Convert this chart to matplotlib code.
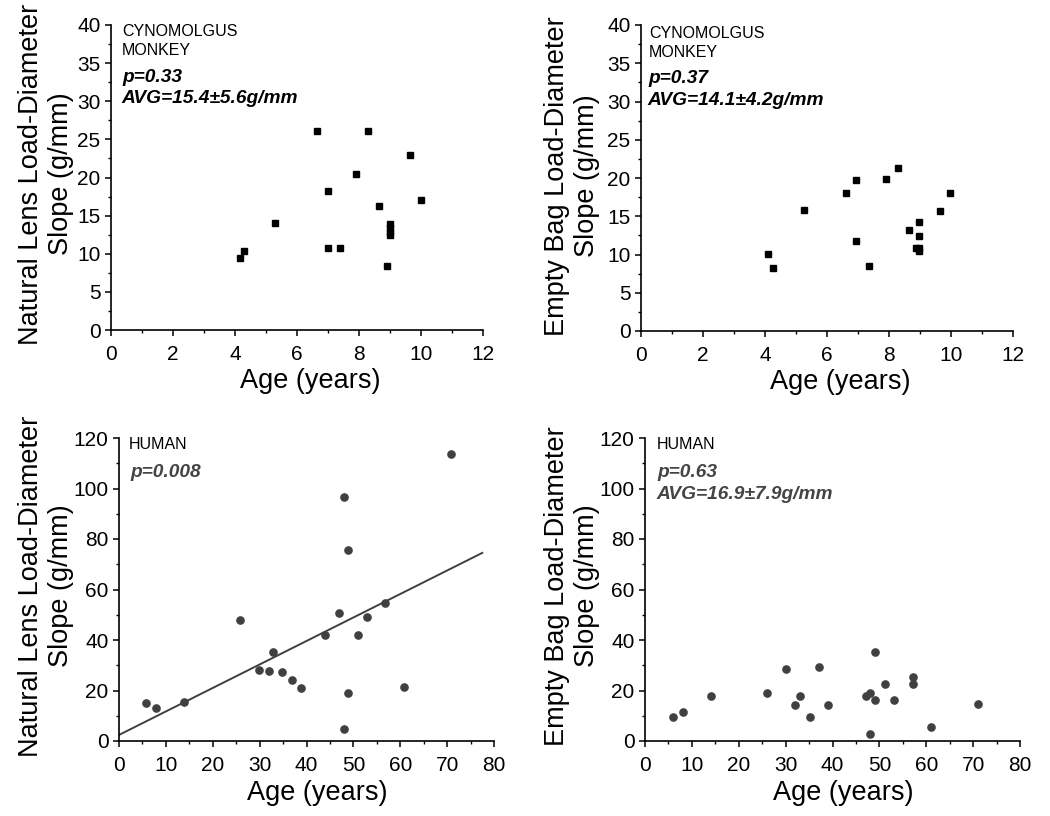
import matplotlib
matplotlib.use("Agg")
import matplotlib.pyplot as plt
from matplotlib.ticker import MultipleLocator
import numpy as np

plt.rcParams['font.family'] = ['Liberation Sans', 'DejaVu Sans']

# ---- Data ----
monkey_age = [4.15, 4.3, 5.3, 6.65, 7.0, 7.0, 7.4, 7.9, 8.3, 8.65, 8.9, 9.0, 9.0, 9.0, 9.0, 9.65, 10.0]
monkey_lens = [9.5, 10.4, 14.0, 26.1, 18.2, 10.8, 10.8, 20.5, 26.1, 16.3, 8.4, 13.9, 13.4, 12.9, 12.5, 23.0, 17.1]

monkey_bag_age = [4.1, 4.25, 5.25, 6.6, 6.95, 6.95, 7.37, 7.89, 8.3, 8.64, 8.86, 8.98, 8.98, 8.98, 8.98, 9.65, 9.98]
monkey_bag = [10.1, 8.2, 15.8, 18.0, 19.8, 11.7, 8.5, 19.9, 21.3, 13.2, 10.9, 14.2, 12.4, 10.9, 10.4, 15.7, 18.1]

human_lens_age = [5.8, 7.8, 13.8, 25.9, 29.9, 31.9, 32.9, 34.8, 36.8, 38.8, 43.9, 46.9, 47.9, 47.9,
                  48.9, 48.9, 50.9, 52.8, 56.8, 60.9, 70.9]
human_lens = [15.1, 13.2, 15.6, 47.8, 28.2, 27.8, 35.2, 27.2, 24.2, 20.8, 41.9, 50.7, 96.6, 4.8,
              75.5, 19.2, 41.9, 49.1, 54.8, 21.3, 113.8]
fit_x = [0.0, 77.5]
fit_y = [2.4, 74.5]

human_bag_age = [6.0, 8.0, 14.0, 26.0, 30.0, 32.1, 33.1, 35.1, 37.1, 39.0, 47.1, 48.1, 48.1, 49.1,
                 49.1, 51.1, 53.1, 57.1, 57.1, 61.1, 71.1]
human_bag = [9.7, 11.4, 18.0, 18.9, 28.6, 14.2, 18.0, 9.7, 29.2, 14.4, 17.9, 19.0, 2.8, 35.3,
             16.1, 22.4, 16.1, 25.3, 22.4, 5.7, 14.7]

W, H = 1050, 816
fig = plt.figure(figsize=(W / 100, H / 100), dpi=100)


def add_ax(left, right, top, bottom):
    return fig.add_axes([left / W, 1 - bottom / H, (right - left) / W, (bottom - top) / H])


def style(ax, xmax, xmaj, xmin, ymax, ymaj, ymin):
    ax.set_xlim(0, xmax)
    ax.set_ylim(0, ymax)
    ax.xaxis.set_major_locator(MultipleLocator(xmaj))
    ax.xaxis.set_minor_locator(MultipleLocator(xmin))
    ax.yaxis.set_major_locator(MultipleLocator(ymaj))
    ax.yaxis.set_minor_locator(MultipleLocator(ymin))
    for s in ['top', 'right']:
        ax.spines[s].set_visible(False)
    for s in ['left', 'bottom']:
        ax.spines[s].set_linewidth(1.2)
        ax.spines[s].set_color('black')
    ax.tick_params(which='major', direction='out', length=4, width=1.1, labelsize=15)
    ax.tick_params(which='minor', direction='out', length=2.5, width=1.0)
    ax.tick_params(axis='x', which='major', pad=7)
    ax.tick_params(axis='y', which='major', pad=3.5)
    ax.patch.set_alpha(0)


def px_text(x, y, s, **kw):
    fig.text(x / W, 1 - y / H, s, **kw)


# Top-left
ax1 = add_ax(111, 483, 25, 330)
style(ax1, 12, 2, 1, 40, 5, 2.5)
ax1.plot(monkey_age, monkey_lens, 's', color='black', ms=4.8, clip_on=False)

# Top-right
ax2 = add_ax(641, 1013, 25, 331)
style(ax2, 12, 2, 1, 40, 5, 2.5)
ax2.plot(monkey_bag_age, monkey_bag, 's', color='black', ms=4.8, clip_on=False)

# Bottom-left
ax3 = add_ax(119, 494, 438, 741)
style(ax3, 80, 10, 5, 120, 20, 10)
ax3.plot(fit_x, fit_y, '-', color='#404040', lw=1.4)
ax3.plot(human_lens_age, human_lens, 'o', color='#404040', ms=5.2, clip_on=False)

# Bottom-right
ax4 = add_ax(645, 1020, 438, 741)
style(ax4, 80, 10, 5, 120, 20, 10)
ax4.plot(human_bag_age, human_bag, 'o', color='#404040', ms=5.2, clip_on=False)

# Axis labels
lab = dict(fontsize=19.5, ha='center', va='center', multialignment='center', linespacing=1.15)
px_text(46, 174, 'Natural Lens Load-Diameter\nSlope (g/mm)', rotation=90, **lab)
px_text(572, 176, 'Empty Bag Load-Diameter\nSlope (g/mm)', rotation=90, **lab)
px_text(46, 586, 'Natural Lens Load-Diameter\nSlope (g/mm)', rotation=90, **lab)
px_text(572, 586, 'Empty Bag Load-Diameter\nSlope (g/mm)', rotation=90, **lab)
px_text(310, 381, 'Age (years)', **lab)
px_text(840, 382, 'Age (years)', **lab)
px_text(317, 793, 'Age (years)', **lab)
px_text(843, 793, 'Age (years)', **lab)

# Annotations
small = dict(fontsize=11.5, ha='left', va='baseline')
bi = dict(fontsize=13.8, ha='left', va='baseline', fontweight='bold', fontstyle='italic')
px_text(122, 36, 'CYNOMOLGUS', **small)
px_text(122, 55, 'MONKEY', **small)
px_text(122, 82, 'p=0.33', color='black', **bi)
px_text(121, 103, 'AVG=15.4\u00b15.6g/mm', color='black', **bi)
px_text(649, 38, 'CYNOMOLGUS', **small)
px_text(649, 57, 'MONKEY', **small)
px_text(648, 83, 'p=0.37', color='black', **bi)
px_text(647, 105, 'AVG=14.1\u00b14.2g/mm', color='black', **bi)
px_text(129, 449, 'HUMAN', **small)
px_text(130, 477, 'p=0.008', color='#444444', **bi)
px_text(657, 449, 'HUMAN', **small)
px_text(657, 477, 'p=0.63', color='#444444', **bi)
px_text(656, 499, 'AVG=16.9\u00b17.9g/mm', color='#444444', **bi)

fig.savefig('out.png', dpi=100)
